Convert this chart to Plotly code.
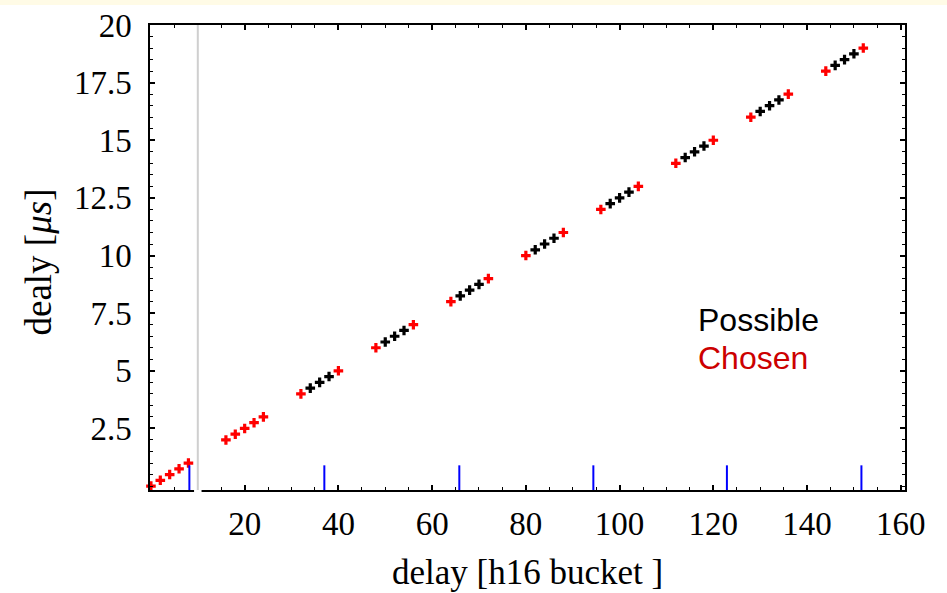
import plotly.graph_objects as go

# Data
chosen_x = [0, 2, 4, 6, 8, 16, 18, 20, 22, 24, 32, 40, 48, 56, 64, 72, 80, 88,
            96, 104, 112, 120, 128, 136, 144, 152]
chosen_y = [0, 0.25, 0.5, 0.75, 1.0, 2.0, 2.25, 2.5, 2.75, 3.0, 4.0, 5.0, 6.0, 7.0,
            8.0, 9.0, 10.0, 11.0, 12.0, 13.0, 14.0, 15.0, 16.0, 17.0, 18.0, 19.0]
possible_x = [34, 36, 38, 50, 52, 54, 66, 68, 70, 82, 84, 86, 98, 100, 102,
              114, 116, 118, 130, 132, 134, 146, 148, 150]
possible_y = [4.25, 4.5, 4.75, 6.25, 6.5, 6.75, 8.25, 8.5, 8.75, 10.25, 10.5, 10.75,
              12.25, 12.5, 12.75, 14.25, 14.5, 14.75, 16.25, 16.5, 16.75,
              18.25, 18.5, 18.75]
blue_x = [8.2, 37.0, 65.8, 94.4, 122.9, 151.6]
blue_top = 0.9
gray_x = 10
x_ticks = [20, 40, 60, 80, 100, 120, 140, 160]
y_ticks = [2.5, 5, 7.5, 10, 12.5, 15, 17.5, 20]
y_ticktext = ["2.5", "5", "7.5", "10", "12.5", "15", "17.5", "20"]

YMIN, YMAX = -0.17, 20.0
XMIN, XMAX = -0.2, 160.9

fig = go.Figure()

fig.add_trace(go.Scatter(x=possible_x, y=possible_y, mode="markers",
                         marker=dict(symbol="cross", size=8, color="black",
                                     line=dict(width=0)),
                         showlegend=False, cliponaxis=False))
fig.add_trace(go.Scatter(x=chosen_x, y=chosen_y, mode="markers",
                         marker=dict(symbol="cross", size=8, color="#ff0000",
                                     line=dict(width=0)),
                         showlegend=False, cliponaxis=False))

shapes = []
# white gap in bottom axis around gray line
shapes.append(dict(type="rect", xref="x", yref="paper", x0=gray_x - 0.8, x1=gray_x + 0.8,
                   y0=-0.01, y1=0.01, fillcolor="white", line=dict(width=0), layer="above"))
shapes.append(dict(type="line", xref="x", yref="paper", x0=gray_x, x1=gray_x, y0=0, y1=1,
                   line=dict(color="#cfcfcf", width=2), layer="above"))
for bx in blue_x:
    shapes.append(dict(type="line", xref="x", yref="y", x0=bx, x1=bx, y0=YMIN, y1=blue_top,
                       line=dict(color="#0000ff", width=2), layer="above"))
# pale yellow strip at top of image
shapes.append(dict(type="rect", xref="paper", yref="paper", x0=-1, x1=2,
                   y0=1 + 20 / 465, y1=1 + 25 / 465, fillcolor="#fffbe6",
                   line=dict(width=0), layer="below"))

tickfont = dict(family="Liberation Serif", size=33, color="black")

fig.update_layout(
    width=947, height=593,
    margin=dict(l=150, r=42, t=25, b=103),
    paper_bgcolor="white", plot_bgcolor="white",
    shapes=shapes,
    xaxis=dict(range=[XMIN, XMAX], tickvals=x_ticks, ticks="inside", ticklen=5,
               tickwidth=1.5, tickcolor="black", showline=True, linecolor="black",
               linewidth=1.5, mirror="ticks", showgrid=False, zeroline=False,
               tickfont=tickfont, ticklabelstandoff=4, automargin=False,
               minor=dict(dtick=5, tick0=0, ticks="inside", ticklen=3, tickcolor="black",
                          tickwidth=1, showgrid=False)),
    yaxis=dict(range=[YMIN, YMAX], tickvals=y_ticks, ticktext=y_ticktext, ticks="inside",
               ticklen=5, tickwidth=1.5, tickcolor="black", showline=True,
               linecolor="black", linewidth=1.5, mirror="ticks", showgrid=False,
               zeroline=False, tickfont=tickfont, ticklabelstandoff=10, automargin=False,
               minor=dict(dtick=0.5, tick0=0, ticks="inside", ticklen=3, tickcolor="black",
                          tickwidth=1, showgrid=False)),
    annotations=[
        dict(text="delay [h16 bucket ]", xref="paper", yref="paper", x=0.5, y=0,
             yshift=-82, xanchor="center", yanchor="middle", showarrow=False,
             font=dict(family="Liberation Serif", size=35, color="black")),
        dict(text="dealy [<i>μs</i>]", xref="paper", yref="paper", x=0, y=0.5,
             xshift=-112, yshift=-5, xanchor="center", yanchor="middle", showarrow=False,
             textangle=-90,
             font=dict(family="Liberation Serif", size=37, color="black")),
        dict(text="Possible", xref="x", yref="y", x=116.4, y=7.2, xanchor="left",
             yanchor="middle", showarrow=False,
             font=dict(family="Liberation Sans", size=32, color="black")),
        dict(text="Chosen", xref="x", yref="y", x=116.4, y=5.55, xanchor="left",
             yanchor="middle", showarrow=False,
             font=dict(family="Liberation Sans", size=32, color="#cc0000")),
    ],
)

fig.write_html("out.html", config={"displayModeBar": False},
               post_script="document.body.style.margin='0px';")
